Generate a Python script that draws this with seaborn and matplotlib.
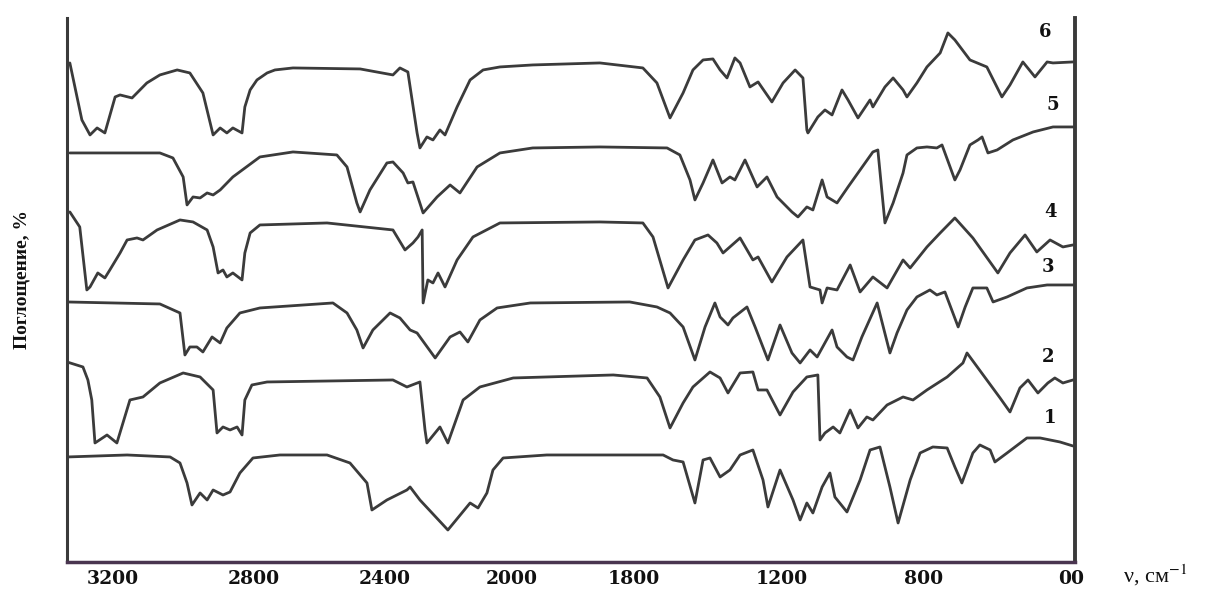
import numpy as np
import pandas as pd
import matplotlib
matplotlib.use("Agg")
import matplotlib.pyplot as plt
from matplotlib.ticker import NullLocator
import seaborn as sns

# The wavenumber axis is drawn non-uniformly: these knots give the relative
# position of each wavenumber along the axis (0 = right end).
axis_wn = [390, 400, 800, 1200, 1800, 2000, 2400, 2800, 3200, 3330]
axis_pos = [0, 4, 151, 293, 441, 563, 690, 821, 962, 1008]

tick_wn = [3200, 2800, 2400, 2000, 1800, 1200, 800, 400]
tick_labels = ["3200", "2800", "2400", "2000", "1800", "1200", "800", "00"]

# IR spectra: wavenumber (cm^-1) and absorption (offset, arbitrary units)
wn_6 = [3322, 3288, 3265, 3245, 3223, 3194, 3180, 3146, 3104, 3067, 3018, 2982, 2945, 2916, 2896,
        2877, 2860, 2834, 2826, 2811, 2791, 2760, 2736, 2681, 2476, 2375, 2353, 2328, 2299, 2290,
        2268, 2249, 2227, 2211, 2173, 2132, 2091, 2038, 1966, 1856, 1764, 1707, 1654, 1601, 1561,
        1520, 1480, 1451, 1423, 1391, 1370, 1330, 1297, 1241, 1197, 1163, 1141, 1130, 1127, 1099,
        1079, 1059, 1031, 1014, 986, 952, 944, 910, 887, 859, 848, 820, 792, 756, 735,
        716, 675, 629, 588, 566, 531, 498, 465, 449, 395]
abs_6 = [499, 442, 427, 434, 429, 465, 467, 464, 479, 487, 492, 489, 469, 427, 434,
         429, 434, 429, 455, 472, 482, 489, 492, 494, 493, 487, 494, 490, 429, 414,
         425, 422, 432, 427, 455, 482, 492, 495, 497, 499, 494, 479, 444, 469, 492,
         502, 503, 492, 484, 504, 499, 475, 480, 460, 479, 492, 484, 432, 429, 445,
         452, 447, 472, 462, 444, 462, 455, 475, 484, 472, 465, 479, 495, 509, 529,
         522, 502, 495, 465, 477, 500, 485, 500, 499, 500]

wn_5 = [3322, 3067, 3030, 3001, 2990, 2973, 2953, 2933, 2916, 2896, 2860, 2782, 2681, 2547, 2516,
        2486, 2476, 2446, 2394, 2375, 2343, 2328, 2312, 2280, 2236, 2195, 2164, 2110, 2038, 1966,
        1856, 1666, 1614, 1573, 1553, 1520, 1492, 1480, 1443, 1411, 1391, 1350, 1301, 1261, 1220,
        1172, 1155, 1130, 1113, 1087, 1073, 1045, 1014, 980, 944, 930, 910, 887, 859, 848,
        820, 792, 765, 751, 716, 702, 675, 653, 642, 626, 601, 558, 503, 449, 395]
abs_5 = [409, 409, 404, 385, 357, 365, 364, 369, 367, 372, 385, 405, 410, 407, 395,
         359, 350, 372, 399, 400, 389, 379, 380, 349, 365, 377, 369, 395, 409, 414,
         415, 414, 407, 382, 362, 379, 395, 402, 379, 385, 382, 402, 375, 385, 365,
         350, 345, 355, 352, 382, 365, 359, 375, 392, 410, 412, 339, 359, 389, 407,
         414, 415, 414, 417, 382, 392, 417, 422, 425, 409, 412, 422, 430, 435, 435]

wn_4 = [3322, 3294, 3274, 3265, 3243, 3223, 3209, 3180, 3160, 3132, 3115, 3075, 3010, 2973, 2933,
        2916, 2902, 2888, 2877, 2860, 2834, 2826, 2811, 2782, 2577, 2375, 2337, 2312, 2296, 2283,
        2280, 2265, 2249, 2233, 2211, 2173, 2123, 2038, 1856, 1764, 1723, 1662, 1601, 1553, 1500,
        1464, 1439, 1370, 1318, 1297, 1241, 1186, 1141, 1121, 1093, 1087, 1073, 1045, 1008, 980,
        944, 904, 859, 839, 792, 756, 716, 667, 599, 566, 525, 493, 457, 422, 395]
abs_4 = [350, 335, 272, 275, 289, 284, 292, 309, 322, 324, 322, 332, 342, 340, 332,
         315, 289, 292, 285, 289, 282, 309, 329, 337, 339, 332, 312, 319, 325, 332,
         259, 282, 279, 289, 275, 302, 325, 339, 340, 339, 325, 274, 302, 322, 327,
         319, 309, 324, 302, 305, 280, 305, 322, 275, 272, 259, 274, 272, 297, 270,
         285, 274, 302, 294, 315, 329, 344, 324, 289, 309, 327, 310, 322, 315, 317]

wn_3 = [3330, 3067, 3010, 2996, 2982, 2962, 2945, 2919, 2896, 2877, 2840, 2782, 2559, 2516, 2486,
        2467, 2437, 2384, 2353, 2321, 2299, 2242, 2195, 2164, 2139, 2101, 2047, 1970, 1807, 1707,
        1654, 1601, 1553, 1512, 1472, 1451, 1419, 1399, 1342, 1309, 1257, 1208, 1172, 1149, 1121,
        1101, 1059, 1045, 1017, 1000, 975, 932, 896, 876, 848, 820, 784, 765, 743, 707,
        688, 667, 629, 612, 574, 520, 465, 395]
abs_3 = [260, 258, 249, 207, 215, 215, 210, 225, 219, 234, 249, 254, 259, 249, 232,
         214, 232, 249, 244, 232, 229, 204, 225, 230, 220, 242, 254, 259, 260, 255,
         249, 235, 202, 235, 259, 245, 237, 244, 255, 235, 202, 237, 209, 199, 212,
         205, 232, 215, 205, 202, 225, 259, 209, 229, 252, 265, 272, 267, 270, 235,
         255, 274, 274, 260, 265, 274, 277, 277]

wn_2 = [3330, 3285, 3271, 3260, 3251, 3217, 3189, 3152, 3115, 3067, 3001, 2953, 2916, 2905, 2888,
        2868, 2848, 2834, 2826, 2806, 2760, 2375, 2331, 2290, 2274, 2268, 2227, 2202, 2154, 2101,
        1998, 1834, 1747, 1695, 1654, 1601, 1561, 1492, 1451, 1419, 1370, 1318, 1297, 1261, 1208,
        1169, 1130, 1099, 1093, 1079, 1056, 1037, 1008, 986, 961, 944, 904, 859, 831, 792,
        737, 694, 683, 669, 629, 593, 566, 539, 517, 490, 463, 444, 422, 395]
abs_2 = [200, 195, 182, 162, 119, 127, 119, 162, 165, 179, 189, 185, 172, 129, 135,
         132, 135, 127, 162, 177, 180, 182, 175, 180, 132, 119, 135, 119, 162, 175,
         184, 187, 184, 165, 134, 159, 175, 190, 184, 169, 189, 190, 172, 172, 147,
         170, 185, 187, 122, 129, 135, 129, 152, 134, 145, 142, 157, 165, 162, 172,
         185, 199, 209, 202, 182, 164, 150, 174, 182, 169, 179, 184, 179, 182]

wn_1 = [3330, 3160, 3038, 3010, 2990, 2976, 2953, 2933, 2916, 2888, 2868, 2840, 2803, 2721, 2577,
        2507, 2455, 2440, 2394, 2331, 2321, 2290, 2202, 2132, 2107, 2079, 2060, 2028, 1943, 1682,
        1642, 1601, 1553, 1520, 1492, 1451, 1411, 1370, 1318, 1277, 1257, 1208, 1169, 1149, 1130,
        1113, 1087, 1065, 1051, 1017, 980, 952, 924, 896, 873, 839, 811, 776, 737, 716,
        697, 667, 648, 620, 607, 574, 520, 484, 430, 395]
abs_1 = [105, 107, 105, 99, 79, 57, 69, 62, 72, 67, 70, 89, 104, 107, 107,
         99, 79, 52, 62, 72, 75, 62, 32, 59, 54, 69, 92, 104, 107, 107,
         102, 100, 59, 102, 104, 85, 92, 107, 112, 82, 55, 92, 62, 42, 59,
         49, 75, 89, 65, 50, 82, 112, 115, 75, 39, 82, 109, 115, 114, 95,
         79, 109, 117, 112, 100, 109, 124, 124, 120, 116]

curve_names = ["1", "2", "3", "4", "5", "6"]
label_wn = [457, 463, 463, 457, 449, 471]
label_abs = [144, 205, 295, 350, 457, 530]

spectra = {
    "1": (wn_1, abs_1), "2": (wn_2, abs_2), "3": (wn_3, abs_3),
    "4": (wn_4, abs_4), "5": (wn_5, abs_5), "6": (wn_6, abs_6),
}

sns.set_theme(style="white")
plt.rcParams["font.family"] = ["Liberation Serif", "DejaVu Serif"]
plt.rcParams["mathtext.fontset"] = "stix"

fig = plt.figure(figsize=(12.14, 5.92), dpi=100)
ax = fig.add_axes([0.0552, 0.0507, 0.8303, 0.919])


def forward(w):
    return np.interp(w, axis_wn, axis_pos)


def inverse(p):
    return np.interp(p, axis_pos, axis_wn)


ax.set_xscale("function", functions=(forward, inverse))

line_color = "#3b3b3b"
for name in curve_names:
    wn, ab = spectra[name]
    df = pd.DataFrame({"wn": wn, "absorption": ab})
    sns.lineplot(data=df, x="wn", y="absorption", sort=False, estimator=None,
                 color=line_color, linewidth=2.0, ax=ax)

for name, lx, ly in zip(curve_names, label_wn, label_abs):
    ax.text(lx, ly, name, fontsize=13, fontweight="bold", color="#111111",
            family="DejaVu Serif", ha="center", va="center")

ax.set_xlim(3330, 390)
ax.set_ylim(0, 544)

ax.set_xticks(tick_wn)
ax.set_xticklabels(tick_labels)
ax.xaxis.set_minor_locator(NullLocator())
ax.set_yticks([])
ax.tick_params(axis="x", length=0, pad=6)
for lab in ax.get_xticklabels():
    lab.set_fontweight("bold")
    lab.set_fontsize(13.5)
    lab.set_family("DejaVu Serif")
    lab.set_color("#111111")

ax.set_ylabel("Поглощение, %", fontsize=14, fontweight="bold", color="#111111")
ax.yaxis.set_label_coords(-0.036, 0.52)
ax.set_xlabel("ν, см$^{-1}$", fontsize=16, color="#111111", family="Liberation Serif")
ax.xaxis.set_label_coords(1.08, -0.024)
ax.xaxis.label.set_va("center")

ax.spines["top"].set_visible(False)
ax.spines["left"].set_color("#3a3a3a")
ax.spines["left"].set_linewidth(2.2)
ax.spines["right"].set_color("#3a3a3a")
ax.spines["right"].set_linewidth(2.8)
ax.spines["bottom"].set_color("#4a3550")
ax.spines["bottom"].set_linewidth(2.5)

fig.savefig("out.png", dpi=100, facecolor="white")
